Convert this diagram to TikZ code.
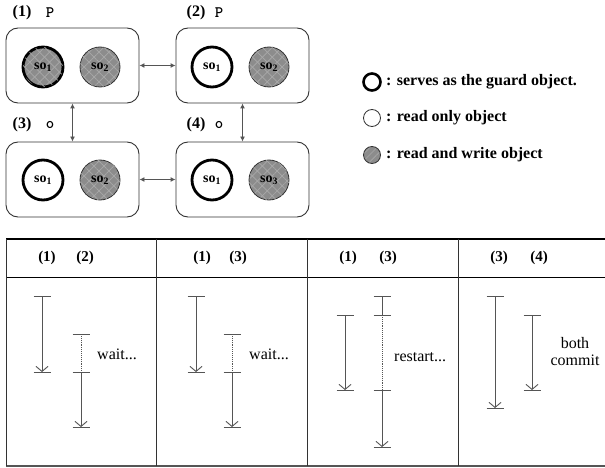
\documentclass[tikz,border=0pt]{standalone}
\usepackage{fontspec}
\setmainfont{Liberation Serif}
\usetikzlibrary{arrows.meta,patterns.meta}
\definecolor{rw}{HTML}{8C8C8C}
\definecolor{rwl}{HTML}{A9A9A9}
\definecolor{ln}{HTML}{555555}
\definecolor{bd}{HTML}{333333}
\tikzset{
  box/.style={draw=bd, line width=0.9pt, rounded corners=12pt, minimum width=133pt, minimum height=75pt, inner sep=0pt},
  obj/.style={circle, draw=bd, line width=0.8pt, minimum size=40pt, inner sep=0pt, font=\fontsize{14}{16}\selectfont\bfseries},
  rwobj/.style={obj, preaction={fill=rw}, pattern={Lines[angle=45,distance=7pt,line width=0.7pt]}, pattern color=rwl,
     postaction={pattern={Lines[angle=-45,distance=7pt,line width=0.7pt]}, pattern color=rwl}},
  guard/.style={line width=2.8pt, draw=black},
  lbl/.style={font=\fontsize{16}{18}\selectfont\bfseries, inner sep=0pt},
  tt/.style={font=\fontsize{16}{18}\selectfont\ttfamily\bfseries, inner sep=0pt},
  conn/.style={draw=ln, line width=0.9pt, {Latex[length=5pt,width=5pt]}-{Latex[length=5pt,width=5pt]}},
  lgc/.style={circle, draw=bd, line width=0.8pt, minimum size=17pt, inner sep=0pt},
  lgt/.style={anchor=west, inner sep=0pt, font=\fontsize{16}{18}\selectfont\bfseries},
  hdr/.style={font=\fontsize{15}{17}\selectfont\bfseries, inner sep=0pt},
  tl/.style={draw=ln, line width=0.9pt},
  tla/.style={tl, -{Straight Barb[length=5pt,width=12pt]}},
  note/.style={font=\fontsize{16}{18}\selectfont, inner sep=0pt, align=center},
}
\newcommand{\tbar}[1]{\draw[tl] ([xshift=-8.5pt]#1) -- ([xshift=8.5pt]#1);}
\begin{document}
\begin{tikzpicture}[x=1pt,y=-1pt]
\useasboundingbox (0,0) rectangle (605,468);
% boxes
\node[box] (b1) at (72.5,65.5) {};
\node[box] (b2) at (242.5,65.5) {};
\node[box] (b3) at (72.5,179.5) {};
\node[box] (b4) at (242.5,179.5) {};
% labels
\node[lbl] (l1) at (22,13) {(1)}; \node[tt] (p1) at (50,13) {P};
\node[lbl] (l2) at (196,13) {(2)}; \node[tt] (p2) at (219,13) {P};
\node[lbl] (l3) at (22,125) {(3)}; \node[tt] (p3) at (50,125) {o};
\node[lbl] (l4) at (196,125) {(4)}; \node[tt] (p4) at (219,125) {o};
% objects
\node[rwobj, guard] (o11) at (43,67) {so$_{\mathbf 1}$};
\node[rwobj] (o12) at (100,67) {so$_{\mathbf 2}$};
\node[obj, guard, fill=white] (o21) at (212,67) {so$_{\mathbf 1}$};
\node[rwobj] (o22) at (269,67) {so$_{\mathbf 2}$};
\node[obj, guard, fill=white] (o31) at (43,180) {so$_{\mathbf 1}$};
\node[rwobj] (o32) at (100,180) {so$_{\mathbf 2}$};
\node[obj, guard, fill=white] (o41) at (212,180) {so$_{\mathbf 1}$};
\node[rwobj] (o42) at (269,180) {so$_{\mathbf 3}$};
% connectors
\draw[conn] (b1) -- (b2);
\draw[conn] (b3) -- (b4);
\draw[conn] (b1) -- (b3);
\draw[conn] (b2) -- (b4);
% legend
\node[lgc, guard, line width=2.6pt] (g1) at (372,82) {};
\node[lgt] (t1) at (386,82) {: serves as the guard object.};
\node[lgc] (g2) at (372,118) {};
\node[lgt] (t2) at (386,118) {: read only object};
\node[lgc, preaction={fill=rw}, pattern={Lines[angle=45,distance=5pt,line width=0.6pt]}, pattern color=rwl] (g3) at (372,155) {};
\node[lgt] (t3) at (386,155) {: read and write object};
% table
\draw[black, line width=1.3pt] (6,239) -- (605,239);
\draw[black, line width=1pt] (6,277) -- (605,277);
\draw[ln, line width=1.2pt] (6,466) -- (605,466);
\foreach \x in {6,156,307,458} {\draw[bd, line width=1pt] (\x,239) -- (\x,466);}
\node[hdr] (h11) at (47,258) {(1)}; \node[hdr] (h12) at (85,258) {(2)};
\node[hdr] (h21) at (202,258) {(1)}; \node[hdr] (h22) at (238,258) {(3)};
\node[hdr] (h31) at (348,258) {(1)}; \node[hdr] (h32) at (388,258) {(3)};
\node[hdr] (h41) at (499,258) {(3)}; \node[hdr] (h42) at (539,258) {(4)};
% column 1
\coordinate (a1s) at (42,296); \coordinate (a1e) at (42,372);
\coordinate (b1s) at (81,334); \coordinate (b1m) at (81,372); \coordinate (b1e) at (81,427);
\draw[tla] (a1s) -- (a1e); \tbar{a1s} \tbar{a1e}
\draw[tl, densely dotted] (b1s) -- (b1m); \draw[tla] (b1m) -- (b1e);
\tbar{b1s} \tbar{b1m} \tbar{b1e}
\node[note, anchor=west] (w1) at (97,354) {wait...};
% column 2
\coordinate (a2s) at (196,296); \coordinate (a2e) at (196,372);
\coordinate (b2s) at (232,334); \coordinate (b2m) at (232,372); \coordinate (b2e) at (232,427);
\draw[tla] (a2s) -- (a2e); \tbar{a2s} \tbar{a2e}
\draw[tl, densely dotted] (b2s) -- (b2m); \draw[tla] (b2m) -- (b2e);
\tbar{b2s} \tbar{b2m} \tbar{b2e}
\node[note, anchor=west] (w2) at (249,354) {wait...};
% column 3
\coordinate (a3s) at (345,315); \coordinate (a3e) at (345,390);
\coordinate (b3s) at (382,296); \coordinate (b3m) at (382,315); \coordinate (b3n) at (382,390); \coordinate (b3e) at (382,447);
\draw[tla] (a3s) -- (a3e); \tbar{a3s} \tbar{a3e}
\draw[tl] (b3s) -- (b3m); \draw[tl, densely dotted] (b3m) -- (b3n); \draw[tla] (b3n) -- (b3e);
\tbar{b3s} \tbar{b3m} \tbar{b3n} \tbar{b3e}
\node[note, anchor=west] (w3) at (394,357) {restart...};
% column 4
\coordinate (a4s) at (495,296); \coordinate (a4e) at (495,408);
\coordinate (b4s) at (532,315); \coordinate (b4e) at (532,390);
\draw[tla] (a4s) -- (a4e); \tbar{a4s} \tbar{a4e}
\draw[tla] (b4s) -- (b4e); \tbar{b4s} \tbar{b4e}
\node[note] (w4) at (575,352) {both\\[-1pt]commit};
\end{tikzpicture}
\end{document}
